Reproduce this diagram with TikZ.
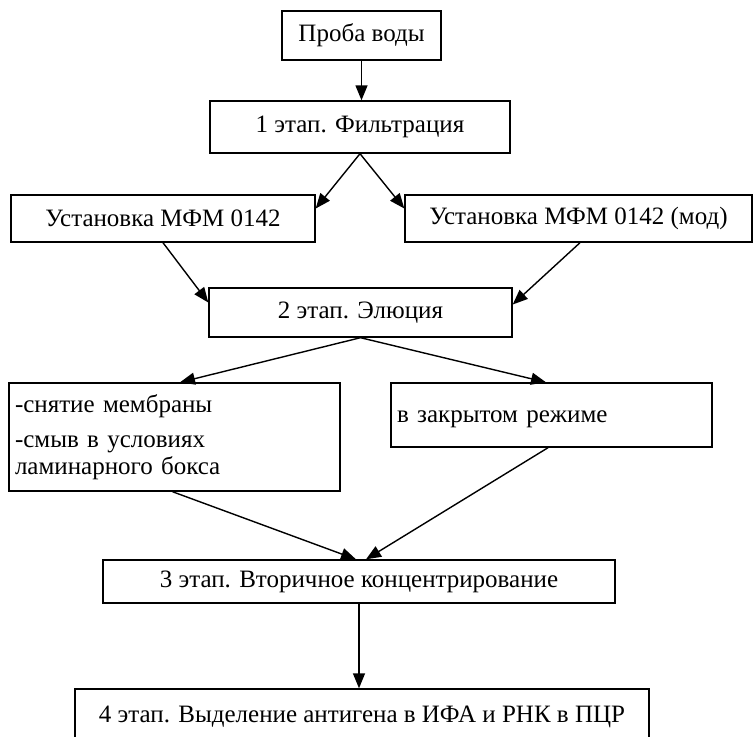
\documentclass[tikz,border=0pt]{standalone}
\usepackage{fontspec}
\setmainfont{Liberation Serif}
\usetikzlibrary{arrows.meta}
\begin{document}
\begin{tikzpicture}[x=1pt,y=-1pt,
  box/.style={draw, line width=1.4pt, rectangle, inner sep=0pt,
    font=\fontsize{25}{27}\selectfont, align=center},
  arr/.style={line width=1.4pt, -{Triangle[length=15pt,width=12pt]}}]
\path[use as bounding box, fill=white] (0,0) rectangle (754,736);

\node[box, minimum width=159pt, minimum height=49pt] (proba) at (361.5,35.5) {Проба воды};
\node[box, minimum width=300pt, minimum height=52pt] (f1) at (360,127) {1 этап. Фильтрация};
\node[box, minimum width=304pt, minimum height=47pt] (u1) at (163,218.5) {Установка МФМ 0142};
\node[box, minimum width=347pt, minimum height=47pt] (u2) at (578.5,218.5) {Установка МФМ 0142 (мод)};
\node[box, minimum width=303pt, minimum height=49pt] (e2) at (360.5,312.5) {2 этап. Элюция};
\node[box, align=left, inner xsep=6pt, text width=319pt, minimum height=108pt] (lb) at (174.5,437)
  {-снятие мембраны\\[8pt]-смыв в условиях\\ламинарного бокса};
\node[box, align=left, inner xsep=6pt, text width=309pt, minimum height=64pt,
  text height=19pt, text depth=5pt] (rb) at (551.5,415) {в закрытом режиме};
\node[box, minimum width=512pt, minimum height=43pt] (s3) at (359,581.5) {3 этап. Вторичное концентрирование};
\node[box, minimum width=574pt, minimum height=54pt, text height=18pt, text depth=6pt]
  (s4) at (362,716) {4 этап. Выделение антигена в ИФА и РНК в ПЦР};

\draw[arr] (proba.south) -- (proba.south |- f1.north);
\draw[arr] (f1.south) -- ([yshift=10pt]u1.east);
\draw[arr] (f1.south) -- ([yshift=10pt]u2.west);
\draw[arr] (u1.south) -- ([yshift=10pt]e2.west);
\draw[arr] ([xshift=1.5pt]u2.south) -- ([yshift=8pt]e2.east);
\draw[arr] (e2.south) -- ([xshift=5.5pt]lb.north);
\draw[arr] (e2.south) -- ([xshift=-5.5pt]rb.north);
\draw[arr] ([xshift=-2pt]lb.south) -- ([xshift=-3pt]s3.north);
\draw[arr] ([xshift=-3.5pt]rb.south) -- ([xshift=7pt]s3.north);
\draw[arr] (s3.south) -- (s3.south |- s4.north);
\end{tikzpicture}
\end{document}
